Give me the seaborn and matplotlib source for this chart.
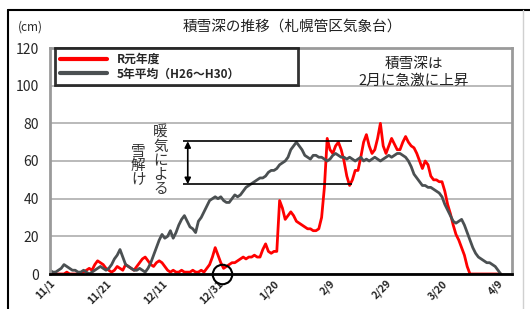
import numpy as np
import pandas as pd
import matplotlib
matplotlib.use("Agg")
import matplotlib.pyplot as plt
from matplotlib.lines import Line2D
import seaborn as sns

# snow depth (cm), one value per day from 11/1 (day 0) to 4/10 (day 161)
reiwa1 = [
    0, 0, 0, 0, 0, 0, 1, 0, 0, 0,
    0, 0, 1, 2, 3, 2, 5, 7, 6, 5,
    3, 2, 1, 2, 4, 3, 2, 5, 4, 3,
    2, 4, 6, 8, 9, 7, 5, 4, 6, 7,
    6, 4, 2, 1, 2, 1, 1, 2, 1, 1,
    1, 2, 1, 1, 2, 1, 3, 5, 9, 14,
    10, 6, 3, 4, 5, 6, 6, 7, 8, 9,
    8, 9, 9, 10, 9, 9, 13, 16, 12, 11,
    12, 12, 39, 35, 29, 31, 33, 31, 28, 27,
    26, 25, 24, 24, 23, 23, 24, 30, 46, 72,
    66, 64, 68, 70, 66, 60, 52, 47, 50, 55,
    55, 62, 70, 74, 68, 64, 66, 72, 80, 68,
    64, 68, 72, 69, 66, 66, 70, 73, 70, 68,
    67, 64, 60, 56, 60, 58, 52, 50, 50, 49,
    49, 44, 37, 32, 26, 21, 18, 14, 10, 4,
    0, 0, 0, 0, 0, 0, 0, 0, 0, 0,
    0, 0,
]
avg5 = [
    2, 1, 1, 2, 3, 5, 4, 3, 2, 2,
    1, 1, 2, 1, 0, 1, 2, 3, 4, 3,
    2, 3, 5, 8, 10, 13, 9, 5, 4, 3,
    2, 2, 3, 2, 1, 3, 6, 10, 14, 18,
    21, 19, 20, 23, 19, 22, 26, 29, 31, 28,
    25, 24, 22, 28, 30, 33, 36, 39, 40, 41,
    40, 41, 39, 38, 38, 40, 42, 41, 42, 44,
    46, 47, 48, 49, 50, 51, 51, 52, 54, 55,
    55, 56, 58, 59, 60, 62, 66, 68, 70, 68,
    66, 63, 62, 61, 63, 63, 62, 62, 61, 60,
    61, 63, 64, 63, 62, 62, 61, 62, 61, 60,
    61, 62, 60, 61, 60, 61, 62, 61, 60, 61,
    62, 63, 62, 63, 64, 64, 63, 62, 60, 57,
    53, 51, 49, 47, 47, 46, 46, 45, 44, 43,
    41, 37, 34, 31, 28, 27, 28, 29, 26, 22,
    18, 14, 11, 9, 8, 7, 6, 6, 5, 4,
    2, 0,
]
series_names = ["R元年度", "5年平均（H26～H30）"]
tick_days = [0, 20, 40, 60, 80, 100, 120, 140, 160]
tick_labels = ["11/1", "11/21", "12/11", "12/31", "1/20", "2/9", "2/29", "3/20", "4/9"]
y_ticks = [0, 20, 40, 60, 80, 100, 120]
melt_top, melt_bottom = 70.5, 47.7   # warm-spell melt band
melt_start, melt_end = 47.5, 108

sns.set_theme(style="white")
plt.rcParams["font.family"] = ["Noto Sans CJK JP", "DejaVu Sans"]

days = np.arange(len(reiwa1))
df = pd.DataFrame({"day": days, series_names[0]: reiwa1, series_names[1]: avg5})
long = df.melt(id_vars="day", var_name="series", value_name="depth")

fig = plt.figure(figsize=(5.3, 3.09), dpi=100)
ax = fig.add_axes([50 / 530, 1 - 274 / 309, 462 / 530, 226 / 309])

sns.lineplot(data=long, x="day", y="depth", hue="series", hue_order=series_names,
             palette=["#ff0000", "#4b5052"], linewidth=2.0, ax=ax)

ax.set_xlim(0, 165)
ax.set_ylim(0, 120)
ax.set_xlabel(""); ax.set_ylabel("")
ax.set_yticks(y_ticks)
ax.set_yticklabels([str(v) for v in y_ticks], fontsize=10)
ax.set_xticks(tick_days)
ax.set_xticklabels(tick_labels, rotation=45, ha="right", rotation_mode="anchor",
                   fontsize=7.5, fontweight="bold")
ax.tick_params(axis="x", direction="in", length=4, width=1.5, color="black", pad=3)
ax.tick_params(axis="y", length=0, pad=8)
ax.yaxis.grid(True, color="#b4b4b4", lw=1.3)
ax.set_axisbelow(True)
for side in ["left", "right", "top"]:
    ax.spines[side].set_color("#9a9a9a")
    ax.spines[side].set_linewidth(2)
ax.spines["bottom"].set_color("black")
ax.spines["bottom"].set_linewidth(2)

# warm-spell melt annotation
ax.hlines([melt_top, melt_bottom], melt_start, melt_end, color="black", lw=1.2)
ax.annotate("", xy=(melt_start + 1.7, melt_bottom), xytext=(melt_start + 1.7, melt_top),
            arrowprops=dict(arrowstyle="<|-|>", color="black", lw=1.2,
                            mutation_scale=9, shrinkA=0, shrinkB=0))
ax.text(39.5, 60, "\n".join("暖気による"), fontsize=10.5, linespacing=1.0,
        ha="center", va="center", color="#333333")
ax.text(31.5, 57.5, "\n".join("雪解け"), fontsize=10.5, linespacing=1.0,
        ha="center", va="center", color="#333333")
ax.plot([61.5], [0], marker="o", markersize=14, markerfacecolor="none",
        markeredgecolor="black", markeredgewidth=1.5, clip_on=False)

ax.text(130, 107, "積雪深は\n2月に急激に上昇", fontsize=10.5, ha="center", va="center",
        linespacing=1.25, color="#222222")

leg = ax.legend(loc="upper left", bbox_to_anchor=(0.011, 0.0, 0.526, 1.0), mode="expand",
                handlelength=4.0, handletextpad=0.8, borderpad=0.4,
                labelspacing=0.15, frameon=True, fancybox=False,
                prop={"weight": "bold", "size": 8.5}, borderaxespad=0)
leg.get_frame().set_edgecolor("black")
leg.get_frame().set_linewidth(2)
for line in leg.get_lines():
    line.set_linewidth(3)
leg._legend_box.align = "left"
leg._legend_box.set_offset = leg._legend_box.set_offset

fig.text(292 / 530, 1 - 27 / 309, "積雪深の推移（札幌管区気象台）", fontsize=10.5,
         ha="center", va="center", color="#222222")
fig.text(30 / 530, 1 - 27 / 309, "(cm)", fontsize=8.5, ha="center", va="center")

# outer frame
fig.add_artist(Line2D([8 / 530, 8 / 530], [0, 1 - 10 / 309], color="black", lw=1.5,
                      transform=fig.transFigure))
fig.add_artist(Line2D([8 / 530, 1], [1 - 10 / 309, 1 - 10 / 309], color="black", lw=1.5,
                      transform=fig.transFigure))
fig.add_artist(Line2D([523 / 530, 523 / 530], [0, 1 - 10 / 309], color="#d0d0d0", lw=1,
                      transform=fig.transFigure))

fig.savefig("out.png", dpi=100)
